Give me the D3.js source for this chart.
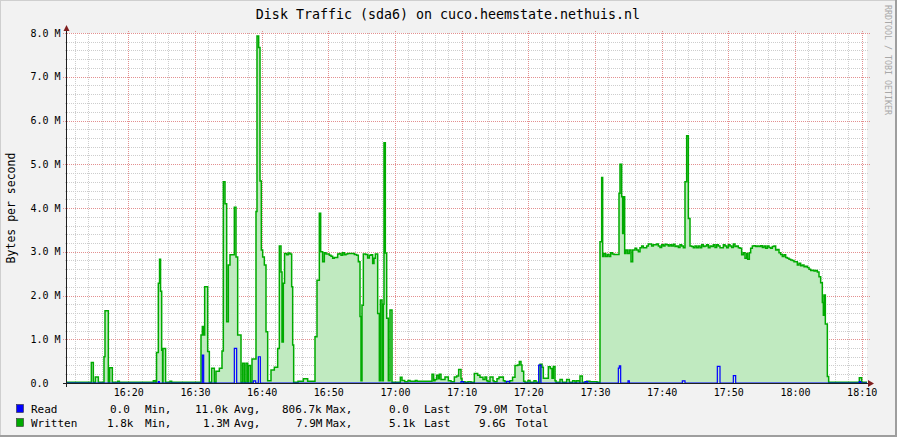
<!DOCTYPE html>
<html><head><meta charset="utf-8">
<script src="https://cdn.jsdelivr.net/npm/d3@7/dist/d3.min.js"></script>
<style>
body{margin:0;background:#f2f2f2}
svg text{font-family:"DejaVu Sans Mono",monospace;white-space:pre}
</style>
</head><body>
<svg id="chart" width="897" height="437"></svg>
<script>
// ---- data (time = seconds after 16:00:00, value = MB/s) ----
const titleText = "Disk Traffic (sda6) on cuco.heemstate.nethuis.nl";
const yAxisTitle = "Bytes per second";
const watermark = "RRDTOOL / TOBI OETIKER";
const timeDomain = [648, 7848];        // 16:10:48 .. 18:10:48
const valueDomain = [0, 8];
const yTickValues = [0,1,2,3,4,5,6,7,8];
const yTickLabels = ["0.0","1.0 M","2.0 M","3.0 M","4.0 M","5.0 M","6.0 M","7.0 M","8.0 M"];
const xTickValues = [1200,1800,2400,3000,3600,4200,4800,5400,6000,6600,7200,7800];
const xTickLabels = ["16:20","16:30","16:40","16:50","17:00","17:10","17:20","17:30","17:40","17:50","18:00","18:10"];

const writtenSteps = [
[648,0.015],[867,0.47],[885,0.015],[903,0.14],[930,0.015],[981,0.6],[990,1.65],[1020,0.02],[1032,0.35],[1056,0.015],
[1104,0.04],[1119,0.015],[1425,0.05],[1440,0.015],[1454,0.7],[1470,2.28],[1481,2.83],[1490,2.1],[1500,0.75],[1508,0.015],
[1512,0.79],[1535,0.015],[1575,0.04],[1590,0.015],[1854,1.1],[1866,1.29],[1878,1.1],[1887,2.2],[1914,0.72],[1929,0.015],
[1950,0.34],[1974,0.015],[1989,0.27],[2019,0.34],[2043,0.73],[2055,4.6],[2070,4.1],[2085,1.4],[2100,2.7],[2115,2.93],
[2154,4.02],[2169,2.88],[2184,1.1],[2214,0.02],[2229,0.45],[2244,0.02],[2259,0.45],[2274,0.02],[2280,0.4],[2298,0.02],
[2313,0.55],[2349,3.92],[2358,7.93],[2373,7.67],[2385,4.62],[2397,3.04],[2409,2.88],[2424,2.7],[2439,1.17],[2454,0.05],
[2484,0.3],[2514,0.36],[2544,0.79],[2559,3.13],[2574,2.54],[2583,0.94],[2595,2.28],[2606,2.96],[2625,2.93],[2640,2.97],
[2655,2.95],[2670,2.2],[2679,0.87],[2688,0.015],[2727,0.04],[2775,0.1],[2814,0.04],[2880,1.06],[2898,2.35],[2919,3.88],
[2931,3.0],[2949,2.77],[2964,2.98],[2979,2.95],[3009,2.92],[3024,2.9],[3039,2.85],[3054,2.87],[3084,2.95],[3099,2.96],
[3114,2.92],[3129,2.98],[3144,2.93],[3159,2.95],[3174,2.96],[3234,2.94],[3255,2.92],[3270,2.77],[3285,1.52],[3294,0.05],
[3303,1.78],[3315,2.95],[3336,2.94],[3354,2.86],[3369,2.92],[3384,2.93],[3399,2.73],[3411,2.85],[3423,2.95],[3444,1.59],
[3459,0.05],[3468,1.9],[3483,0.05],[3495,1.8],[3501,5.49],[3513,2.97],[3525,1.48],[3540,0.05],[3555,1.67],[3573,0.015],
[3648,0.13],[3663,0.06],[3687,0.03],[3717,0.06],[3735,0.04],[3783,0.06],[3798,0.04],[3933,0.2],[3948,0.05],[3960,0.08],
[3975,0.18],[3990,0.1],[3999,0.2],[4014,0.08],[4050,0.14],[4080,0.05],[4104,0.03],[4134,0.14],[4155,0.16],[4173,0.31],
[4194,0.1],[4203,0.03],[4230,0.02],[4257,0.03],[4284,0.015],[4314,0.22],[4344,0.18],[4365,0.13],[4392,0.08],[4410,0.14],
[4425,0.05],[4437,0.03],[4455,0.14],[4482,0.05],[4491,0.03],[4518,0.1],[4536,0.14],[4548,0.13],[4563,0.14],[4575,0.05],
[4590,0.03],[4617,0.03],[4635,0.05],[4658,0.13],[4680,0.4],[4704,0.41],[4719,0.49],[4734,0.41],[4743,0.27],[4758,0.04],
[4770,0.015],[4797,0.06],[4815,0.015],[4851,0.05],[4869,0.015],[4905,0.43],[4923,0.36],[4935,0.11],[4980,0.37],[4998,0.33],
[5013,0.11],[5025,0.38],[5040,0.05],[5049,0.015],[5085,0.08],[5106,0.015],[5145,0.08],[5169,0.015],[5199,0.05],[5220,0.015],
[5235,0.05],[5259,0.015],[5265,0.16],[5286,0.015],[5325,0.04],[5355,0.03],[5382,0.03],[5418,0.015],
[5445,3.23],[5460,4.70],[5469,2.89],[5481,2.96],[5496,2.89],[5511,2.94],[5526,2.89],[5541,2.98],[5556,2.95],[5571,2.94],
[5616,4.34],[5625,5.0],[5640,4.26],[5649,3.42],[5655,4.26],[5667,2.96],[5679,3.04],[5694,2.96],[5709,3.04],[5724,2.77],
[5739,3.04],[5760,3.08],[5775,3.04],[5790,3.0],[5805,3.09],[5820,3.13],[5835,3.09],[5865,3.13],[5880,3.18],[5910,3.13],
[5925,3.16],[5955,3.18],[5970,3.13],[5985,3.10],[6000,3.16],[6015,3.13],[6030,3.17],[6045,3.16],[6060,3.13],[6075,3.16],
[6090,3.13],[6105,3.17],[6120,3.12],[6135,3.13],[6150,3.10],[6165,3.16],[6180,3.13],[6195,3.09],[6210,4.6],[6225,5.65],
[6240,3.76],[6255,3.13],[6270,3.12],[6285,3.09],[6300,3.13],[6315,3.09],[6330,3.13],[6345,3.09],[6360,3.16],[6375,3.12],
[6390,3.13],[6405,3.16],[6420,3.09],[6435,3.13],[6450,3.12],[6465,3.16],[6480,3.10],[6495,3.16],[6510,3.13],[6525,3.09],
[6555,3.16],[6570,3.13],[6585,3.09],[6600,3.16],[6615,3.13],[6630,3.10],[6645,3.18],[6660,3.12],[6675,3.13],[6690,3.09],
[6705,3.08],[6720,2.93],[6735,2.98],[6750,2.85],[6765,2.96],[6774,2.83],[6789,2.98],[6801,3.08],[6816,3.13],[6831,3.14],
[6846,3.12],[6861,3.13],[6876,3.12],[6891,3.14],[6906,3.10],[6921,3.13],[6936,3.08],[6951,3.13],[6966,3.10],[6981,3.08],
[6996,3.12],[7011,3.13],[7026,3.04],[7041,3.05],[7056,2.98],[7071,2.94],[7086,2.89],[7101,2.93],[7116,2.87],[7131,2.85],
[7146,2.83],[7161,2.81],[7176,2.80],[7191,2.77],[7206,2.77],[7221,2.70],[7236,2.74],[7251,2.68],[7266,2.70],[7281,2.66],
[7296,2.67],[7311,2.64],[7326,2.60],[7341,2.57],[7356,2.58],[7371,2.56],[7386,2.57],[7401,2.54],[7416,2.43],[7431,2.29],
[7446,1.84],[7455,1.55],[7461,2.01],[7473,1.35],[7491,0.15],[7503,0.02],[7779,0.12],[7800,0.02]
];

const readSteps = [
[648,0],[1470,0.03],[1479,0],[1866,0.64],[1878,0],[2154,0.79],[2175,0],[2325,0.05],[2346,0],[2370,0.6],[2388,0],
[4194,0.03],[4215,0],[4605,0.04],[4629,0],[4893,0.41],[4914,0],[5310,0.03],[5334,0],[5610,0.34],[5619,0.39],[5631,0],
[5697,0.05],[5709,0],[6186,0.05],[6210,0],[6501,0.38],[6525,0],[6645,0.17],[6666,0],[7779,0.03],[7791,0]
];

const legendSeries = ["Read","Written"];
const legendColors = ["#0000ff","#00aa00"];
const legendStats = [
  ["0.0","Min,","11.0k","Avg,","806.7k","Max,","0.0","Last","79.0M","Total"],
  ["1.8k","Min,","1.3M","Avg,","7.9M","Max,","5.1k","Last","9.6G","Total"]
];

// ---- drawing ----
const W = 897, H = 437;
const svg = d3.select("#chart");
const x = d3.scaleLinear().domain(timeDomain).range([67, 867]);
const y = d3.scaleLinear().domain(valueDomain).range([383, 33]);

// background + shading
svg.append("rect").attr("width", W).attr("height", H).attr("fill", "#f2f2f2");
svg.append("rect").attr("x",0).attr("y",0).attr("width",W).attr("height",1).attr("fill","#cfcfcf");
svg.append("rect").attr("x",0).attr("y",0).attr("width",1).attr("height",H).attr("fill","#cfcfcf");
svg.append("rect").attr("x",0).attr("y",H-2).attr("width",W).attr("height",2).attr("fill","#9e9e9e");
svg.append("rect").attr("x",W-2).attr("y",0).attr("width",2).attr("height",H).attr("fill","#9e9e9e");

// canvas
svg.append("rect").attr("x", 67).attr("y", 33).attr("width", 800).attr("height", 350).attr("fill", "#ffffff");

// grid
const gGrid = svg.append("g");
const minorT = d3.range(720, 7848, 120).filter(t => t % 600 !== 0);
const minorV = d3.range(0, 8.001, 0.2).filter(v => Math.abs(v - Math.round(v)) > 0.01);
const minorCol = "#cdcdcd", majorCol = "#e39090";
const dash = "1,1";
minorT.forEach(t => {
  const px = Math.round(x(t)) + 0.5;
  gGrid.append("line").attr("x1",px).attr("x2",px).attr("y1",33).attr("y2",385)
    .attr("stroke",minorCol).attr("stroke-dasharray",dash);
});
minorV.forEach(v => {
  const py = Math.round(y(v)) + 0.5;
  gGrid.append("line").attr("x1",65).attr("x2",869).attr("y1",py).attr("y2",py)
    .attr("stroke",minorCol).attr("stroke-dasharray",dash);
});
xTickValues.forEach(t => {
  const px = Math.round(x(t)) + 0.5;
  gGrid.append("line").attr("x1",px).attr("x2",px).attr("y1",31).attr("y2",385)
    .attr("stroke",majorCol).attr("stroke-dasharray",dash);
});
yTickValues.forEach(v => {
  if (v === 0) return;
  const py = Math.round(y(v)) + 0.5;
  gGrid.append("line").attr("x1",63).attr("x2",871).attr("y1",py).attr("y2",py)
    .attr("stroke",majorCol).attr("stroke-dasharray",dash);
});

// series
const wData = writtenSteps.map(d => ({t:d[0], v:d[1]}));
wData.push({t: timeDomain[1], v: writtenSteps[writtenSteps.length-1][1]});
const rData = readSteps.map(d => ({t:d[0], v:d[1]}));
rData.push({t: timeDomain[1], v: readSteps[readSteps.length-1][1]});

const area = d3.area().curve(d3.curveStepAfter).x(d => x(d.t)).y0(y(0)).y1(d => y(d.v));
const line = d3.line().curve(d3.curveStepAfter).x(d => x(d.t)).y(d => y(d.v));

svg.append("path").datum(wData).attr("d", area).attr("fill", "#c0eac0");
svg.append("path").datum(wData).attr("d", line).attr("fill", "none")
  .attr("stroke", "#00aa00").attr("stroke-width", 1.5).attr("stroke-linejoin","miter");
svg.append("path").datum(rData).attr("d", line).attr("fill", "none")
  .attr("stroke", "#0000ff").attr("stroke-width", 1.2);

// axes
svg.append("line").attr("x1",63).attr("x2",869).attr("y1",383.5).attr("y2",383.5).attr("stroke","#1f1f1f");
svg.append("line").attr("x1",66.5).attr("x2",66.5).attr("y1",387).attr("y2",29).attr("stroke","#1f1f1f");
svg.append("path").attr("d","M868,380 L874,383.5 L868,387 Z").attr("fill","#801f1f");
svg.append("path").attr("d","M63.5,31 L66.5,25 L69.5,31 Z").attr("fill","#801f1f");

// tick labels
svg.append("g").selectAll("text").data(yTickValues).join("text")
  .attr("x", 30.5).attr("y", v => y(v) + 3.5)
  .attr("font-size", "10px").attr("fill", "#000")
  .text((v,i) => yTickLabels[i]);
svg.append("g").selectAll("text").data(xTickValues).join("text")
  .attr("x", t => x(t) + 0.5).attr("y", 395.5).attr("text-anchor","middle")
  .attr("font-size", "10px").attr("fill", "#000")
  .text((t,i) => xTickLabels[i]);

// title
svg.append("text").attr("x", 448).attr("y", 19).attr("text-anchor","middle")
  .attr("font-size","13.3px").attr("fill","#000").text(titleText);

// y axis title
svg.append("text").attr("transform","translate(15,208) rotate(-90)").attr("text-anchor","middle")
  .attr("font-size","11.5px").attr("fill","#000").text(yAxisTitle);

// watermark
svg.append("text").attr("transform","translate(885,5) rotate(90)").attr("text-anchor","start")
  .attr("font-size","8.3px").attr("fill","#a8a8a8").text(watermark);

// legend
const statX = [110,145,195,234,282,326,389,424,474,515.5];
const statX2 = [107,145,203,234,296,326,389,424,479,515.5];
legendSeries.forEach((name, i) => {
  const by = 413 + i * 14;
  svg.append("rect").attr("x",16.5).attr("y",by-8.5).attr("width",7).attr("height",8)
    .attr("fill",legendColors[i]).attr("stroke","#333").attr("stroke-width",0.6);
  svg.append("text").attr("x",31).attr("y",by).attr("font-size","11px").attr("fill","#000").text(name);
  legendStats[i].forEach((s, j) => {
    svg.append("text").attr("x", (i === 0 ? statX : statX2)[j]).attr("y", by)
      .attr("font-size","11px").attr("fill","#000").text(s);
  });
});
</script>
</body></html>
